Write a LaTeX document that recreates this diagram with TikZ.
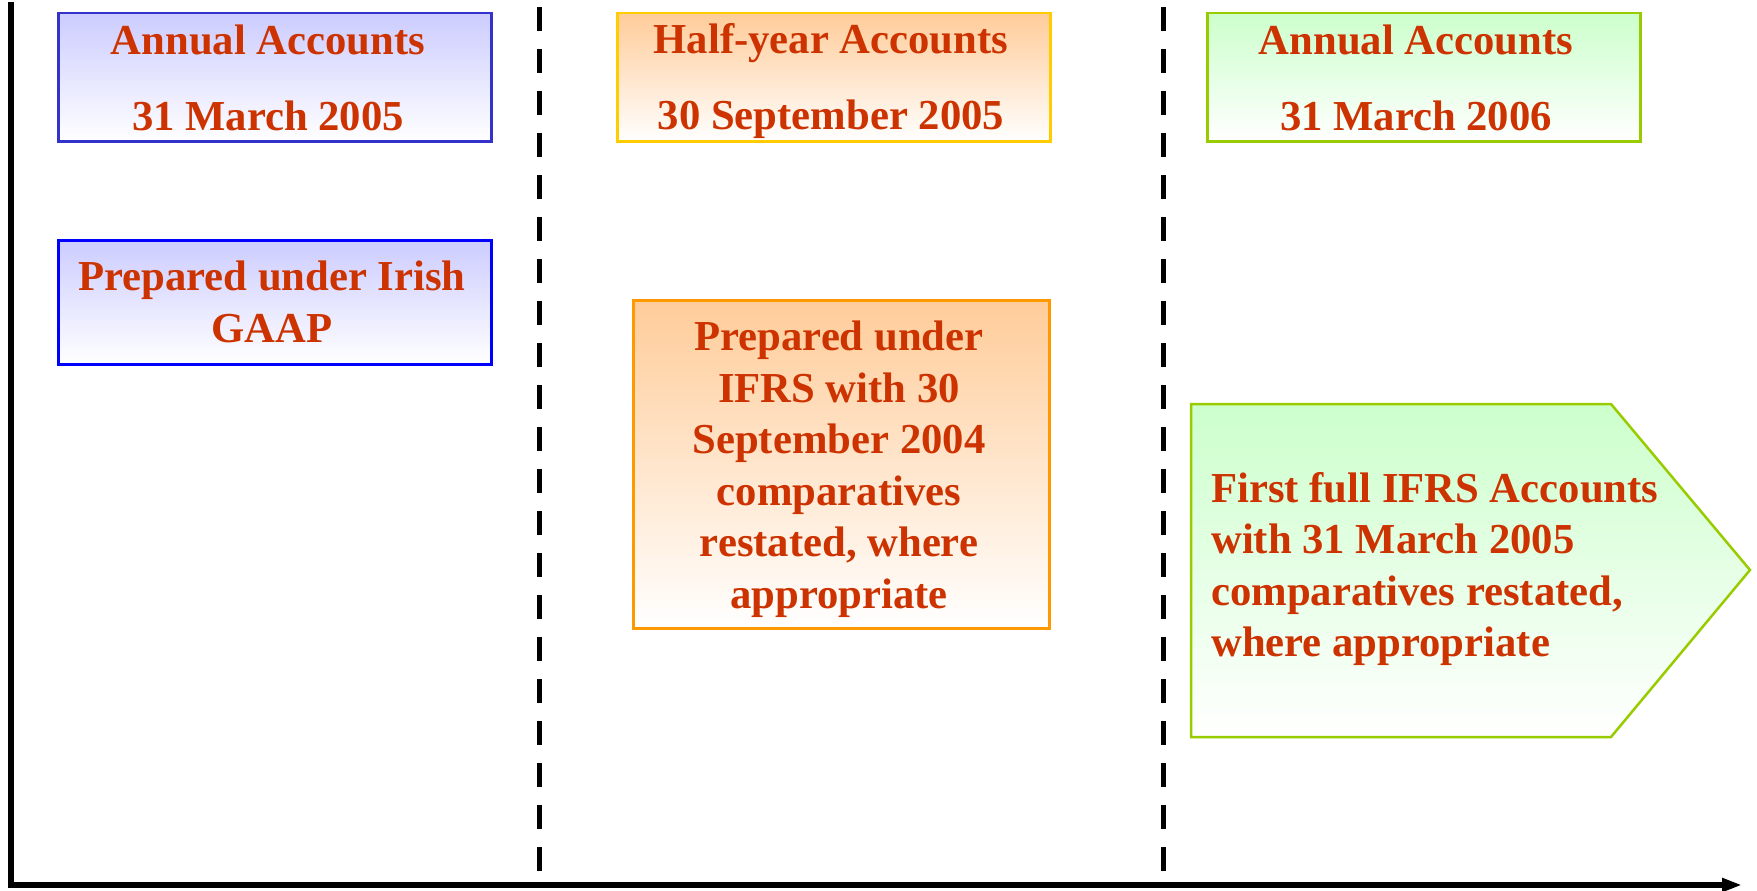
\documentclass[tikz,border=0pt]{standalone}
\usepackage{fontspec}
\setmainfont{Liberation Serif}
\usetikzlibrary{arrows.meta}
\definecolor{txtred}{HTML}{CC3300}
\definecolor{blueA}{HTML}{3333CC}
\definecolor{blueB}{HTML}{0000FF}
\definecolor{bluefill}{HTML}{CCCCFF}
\definecolor{goldline}{HTML}{FFCC00}
\definecolor{orangeline}{HTML}{FF9900}
\definecolor{orangefill}{HTML}{FFCC99}
\definecolor{greenline}{HTML}{99CC00}
\definecolor{greenfill}{HTML}{CCFFCC}
\tikzset{
  axis/.style={line width=6pt},
  divider/.style={line width=5pt, dash pattern=on 24pt off 18pt},
  boxbase/.style={rectangle, anchor=north west, line width=2.5pt, bottom color=white, inner sep=0pt},
  bluebox/.style={boxbase, draw=#1, top color=bluefill},
  orangebox/.style={boxbase, draw=#1, top color=orangefill},
  greenbox/.style={boxbase, draw=greenline, top color=greenfill},
  lbl/.style={text=txtred, font={\fontsize{42.7}{51.5}\selectfont\bfseries}, inner sep=0pt, align=center}
}
\begin{document}
\begin{tikzpicture}[x=1pt,y=-1pt]
\useasboundingbox (0,0) rectangle (1757,891);
% axes
\coordinate (ytop) at (11,5);
\coordinate (origin) at (11,885);
\coordinate (xend) at (1742,885);
\draw[axis, line cap=rect] (ytop) -- (origin);
\draw[axis, -{Triangle[length=20pt,width=13pt]}] (origin) -- (xend);
% dashed dividers
\coordinate (d1t) at (539,7);
\coordinate (d1b) at (539,872);
\coordinate (d2t) at (1163,7);
\coordinate (d2b) at (1163,872);
\draw[divider] (d1t) -- (d1b);
\draw[divider] (d2t) -- (d2b);
% column 1
\node[bluebox=blueA, minimum width=433pt, minimum height=128pt] (b1) at (57,12) {};
\node[lbl] (t1) at (268,78) {Annual Accounts\\[24.5pt]31 March 2005};
\node[bluebox=blueB, minimum width=433pt, minimum height=124pt] (b2) at (57,239) {};
\node[lbl] (t2) at (272,302) {Prepared under Irish\\GAAP};
% column 2
\node[orangebox=goldline, minimum width=433pt, minimum height=128pt] (b3) at (616,12) {};
\node[lbl] (t3) at (831,81) {Half-year Accounts\\[24.5pt]30 September 2005};
\node[orangebox=orangeline, minimum width=416pt, minimum height=328pt] (b4) at (632,299) {};
\node[lbl] (t4) at (839,469) {Prepared under\\IFRS with 30\\September 2004\\comparatives\\restated, where\\appropriate};
% column 3
\node[greenbox, minimum width=433pt, minimum height=128pt] (b5) at (1206,12) {};
\node[lbl] (t5) at (1416,78) {Annual Accounts\\[24.5pt]31 March 2006};
\shade[top color=greenfill, bottom color=white, draw=greenline, line width=2.5pt]
  (1191,404) -- (1611,404) -- (1750,570) -- (1611,737) -- (1191,737) -- cycle;
\node[lbl, align=left, anchor=west] (t6) at (1211,569) {First full IFRS Accounts\\with 31 March 2005\\comparatives restated,\\where appropriate};
\end{tikzpicture}
\end{document}
